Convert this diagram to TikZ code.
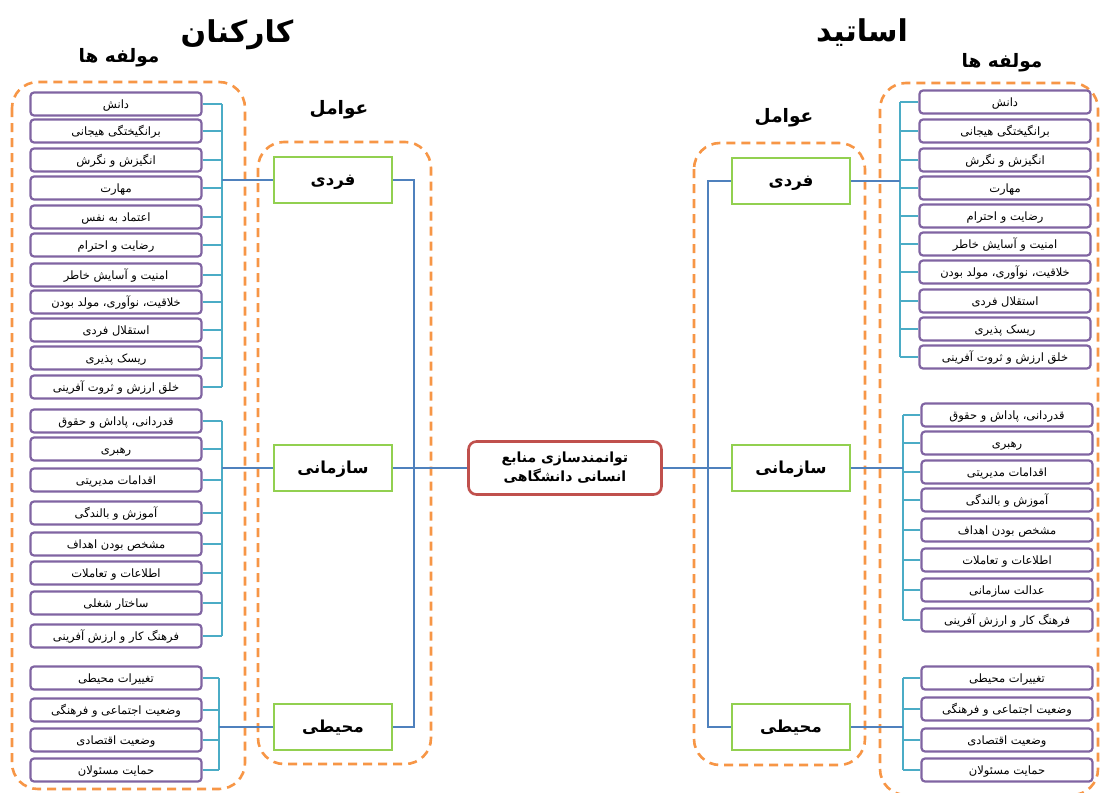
\documentclass[tikz,border=0pt]{standalone}
\usepackage{fontspec}
\TeXXeTstate=1
\newfontfamily\arabicfont[Script=Arabic]{DejaVu Sans}
\newcommand{\fatx}[1]{{\arabicfont\beginR #1\endR}}
\definecolor{grporange}{HTML}{F79646}
\definecolor{itempurple}{HTML}{8064A2}
\definecolor{factgreen}{HTML}{92D050}
\definecolor{corered}{HTML}{C0504D}
\definecolor{mainblue}{HTML}{4F81BD}
\definecolor{branchcyan}{HTML}{4BACC6}
\tikzset{
  grp/.style={draw=grporange, line width=2.6pt, dash pattern=on 9pt off 6pt, rounded corners=26pt},
  itembox/.style={draw=itempurple, line width=2.2pt, rounded corners=3.5pt, fill=white,
    minimum width=171pt, minimum height=23pt, inner sep=0pt, text height=9.5pt, text depth=1.5pt,
    font=\fontsize{11.5}{13}\selectfont},
  factbox/.style={draw=factgreen, line width=2.6pt, fill=white,
    minimum width=118pt, minimum height=46pt, inner sep=0pt, text height=13pt, text depth=2pt,
    font=\fontsize{16.5}{19}\selectfont\bfseries},
  corebox/.style={draw=corered, line width=2.6pt, rounded corners=8pt, fill=white,
    minimum width=193pt, minimum height=53pt, inner sep=0pt, align=center,
    font=\fontsize{14}{19}\selectfont\bfseries},
  branch/.style={draw=branchcyan, line width=1.3pt},
  bus/.style={draw=mainblue, line width=1.3pt},
  titletext/.style={font=\fontsize{30}{34}\selectfont\bfseries, inner sep=0pt},
  subtext/.style={font=\fontsize{18.5}{21}\selectfont\bfseries, inner sep=0pt},
}
\begin{document}
\begin{tikzpicture}[x=1pt,y=-1pt]
\useasboundingbox (0,0) rectangle (1102,792);
\fill[white] (0,0) rectangle (1102,792);

% titles
\node[titletext] (TL) at (237,35) {\fatx{کارکنان}};
\node[titletext] (TR) at (862,33) {\fatx{اساتید}};
\node[subtext] (SL) at (119,58) {\fatx{مولفه ها}};
\node[subtext] (SR) at (1002,63) {\fatx{مولفه ها}};
\node[subtext] (FL) at (339,110) {\fatx{عوامل}};
\node[subtext] (FR) at (784,118) {\fatx{عوامل}};

% dashed groups
\draw[grp] (12,82) rectangle (245,789);
\draw[grp] (258,142) rectangle (431,764);
\draw[grp] (694,143) rectangle (865,765);
\draw[grp] (880,83) rectangle (1098,795);

% bus coordinates
\coordinate (LbusA) at (222,0);
\coordinate (LbusE) at (219,0);
\coordinate (LbusF) at (414,0);
\coordinate (RbusF) at (708,0);
\coordinate (RbusA) at (900,0);
\coordinate (RbusB) at (903,0);

% left items
\foreach \t/\y [count=\i] in {دانش/104, برانگیختگی هیجانی/131, انگیزش و نگرش/160, مهارت/188, اعتماد به نفس/217, رضایت و احترام/245, امنیت و آسایش خاطر/275, خلاقیت، نوآوری، مولد بودن/302, استقلال فردی/330, ریسک پذیری/358, خلق ارزش و ثروت آفرینی/387}{
  \node[itembox] (LI\i) at (116,\y) {\fatx{\t}};
  \draw[branch] (LI\i.east) -- (LI\i.east -| LbusA);
}
\foreach \t/\y [count=\i] in {قدردانی، پاداش و حقوق/421, رهبری/449, اقدامات مدیریتی/480, آموزش و بالندگی/513, مشخص بودن اهداف/544, اطلاعات و تعاملات/573, ساختار شغلی/603, فرهنگ کار و ارزش آفرینی/636}{
  \node[itembox] (LO\i) at (116,\y) {\fatx{\t}};
  \draw[branch] (LO\i.east) -- (LO\i.east -| LbusA);
}
\foreach \t/\y [count=\i] in {تغییرات محیطی/678, وضعیت اجتماعی و فرهنگی/710, وضعیت اقتصادی/740, حمایت مسئولان/770}{
  \node[itembox] (LE\i) at (116,\y) {\fatx{\t}};
  \draw[branch] (LE\i.east) -- (LE\i.east -| LbusE);
}
\draw[branch] (LI1.east -| LbusA) -- (LI11.east -| LbusA);
\draw[branch] (LO1.east -| LbusA) -- (LO8.east -| LbusA);
\draw[branch] (LE1.east -| LbusE) -- (LE4.east -| LbusE);

% right items
\foreach \t/\y [count=\i] in {دانش/102, برانگیختگی هیجانی/131, انگیزش و نگرش/160, مهارت/188, رضایت و احترام/216, امنیت و آسایش خاطر/244, خلاقیت، نوآوری، مولد بودن/272, استقلال فردی/301, ریسک پذیری/329, خلق ارزش و ثروت آفرینی/357}{
  \node[itembox] (RI\i) at (1005,\y) {\fatx{\t}};
  \draw[branch] (RI\i.west) -- (RI\i.west -| RbusA);
}
\foreach \t/\y [count=\i] in {قدردانی، پاداش و حقوق/415, رهبری/443, اقدامات مدیریتی/472, آموزش و بالندگی/500, مشخص بودن اهداف/530, اطلاعات و تعاملات/560, عدالت سازمانی/590, فرهنگ کار و ارزش آفرینی/620}{
  \node[itembox] (RO\i) at (1007,\y) {\fatx{\t}};
  \draw[branch] (RO\i.west) -- (RO\i.west -| RbusB);
}
\foreach \t/\y [count=\i] in {تغییرات محیطی/678, وضعیت اجتماعی و فرهنگی/709, وضعیت اقتصادی/740, حمایت مسئولان/770}{
  \node[itembox] (RE\i) at (1007,\y) {\fatx{\t}};
  \draw[branch] (RE\i.west) -- (RE\i.west -| RbusB);
}
\draw[branch] (RI1.west -| RbusA) -- (RI10.west -| RbusA);
\draw[branch] (RO1.west -| RbusB) -- (RO8.west -| RbusB);
\draw[branch] (RE1.west -| RbusB) -- (RE4.west -| RbusB);

% factor boxes
\node[factbox] (LF1) at (333,180) {\fatx{فردی}};
\node[factbox] (LF2) at (333,468) {\fatx{سازمانی}};
\node[factbox] (LF3) at (333,727) {\fatx{محیطی}};
\node[factbox] (RF1) at (791,181) {\fatx{فردی}};
\node[factbox] (RF2) at (791,468) {\fatx{سازمانی}};
\node[factbox] (RF3) at (791,727) {\fatx{محیطی}};

% core
\node[corebox] (C) at (565,468) {\fatx{توانمندسازی منابع}\\\fatx{انسانی دانشگاهی}};

% connectors factors -> items
\draw[bus] (LF1.west) -- (LF1.west -| LbusA);
\draw[bus] (LF2.west) -- (LF2.west -| LbusA);
\draw[bus] (LF3.west) -- (LF3.west -| LbusE);
\draw[bus] (RF1.east) -- (RF1.east -| RbusA);
\draw[bus] (RF2.east) -- (RF2.east -| RbusB);
\draw[bus] (RF3.east) -- (RF3.east -| RbusB);

% connectors factors -> core
\draw[bus] (LF1.east) -- (LF1.east -| LbusF) -- (LF3.east -| LbusF) -- (LF3.east);
\draw[bus] (LF2.east) -- (C.west);
\draw[bus] (RF1.west) -- (RF1.west -| RbusF) -- (RF3.west -| RbusF) -- (RF3.west);
\draw[bus] (C.east) -- (RF2.west);
\end{tikzpicture}
\end{document}
